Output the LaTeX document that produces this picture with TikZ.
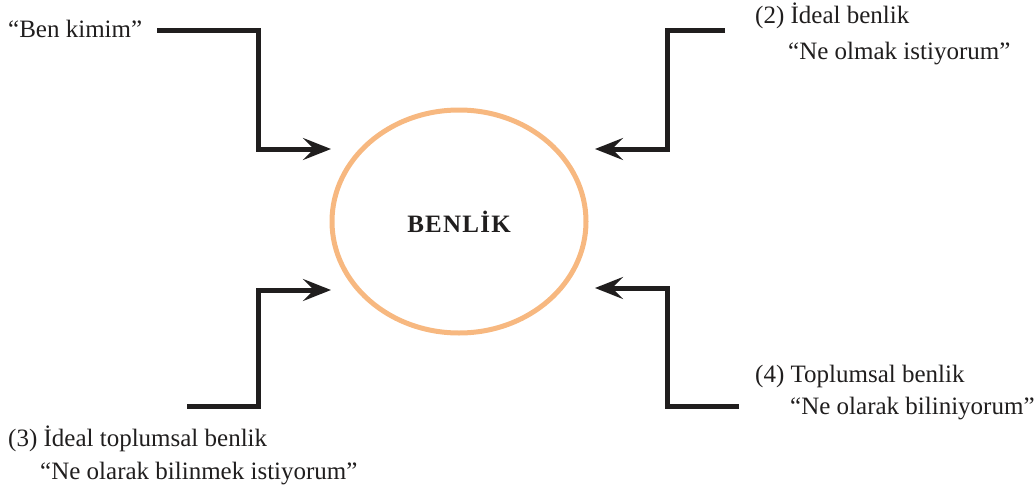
\documentclass[tikz,border=0pt]{standalone}
\usepackage{fontspec}
\setmainfont{Liberation Serif}
\usetikzlibrary{arrows.meta,shapes.geometric}
\definecolor{peach}{RGB}{247,184,128}
\definecolor{ink}{RGB}{32,30,30}
\begin{document}
\begin{tikzpicture}[x=1pt,y=-1pt,
  conn/.style={draw=ink,line width=5pt,-{Stealth[length=28pt,width=22pt,inset=11pt]}},
  lbl/.style={anchor=base west,inner sep=0pt,font=\fontsize{25}{30}\selectfont,text=ink},
  selfbox/.style={ellipse,draw=peach,line width=5pt,minimum width=254pt,minimum height=223pt,inner sep=0pt,
    font=\fontsize{25}{30}\selectfont\bfseries\addfontfeature{LetterSpace=5},text=ink}]
\useasboundingbox (0,0) rectangle (1036,490);

% central ellipse
\node[selfbox] (self) at (459,221.5) {BENLİK};

% labels
\node[lbl] (q1)  at (8,37)    {“Ben kimim”};
\node[lbl] (l2a) at (755,23)  {(2) İdeal benlik};
\node[lbl] (l2b) at (788,59)  {“Ne olmak istiyorum”};
\node[lbl] (l3a) at (8,446)   {(3) İdeal toplumsal benlik};
\node[lbl] (l3b) at (40,479)  {“Ne olarak bilinmek istiyorum”};
\node[lbl] (l4a) at (755,382) {(4) Toplumsal benlik};
\node[lbl] (l4b) at (790,414) {“Ne olarak biliniyorum”};

% free ends of the connectors
\coordinate (s1) at (157,30.5);
\coordinate (s2) at (725,30.5);
\coordinate (s3) at (187,406.5);
\coordinate (s4) at (739,406.5);
\coordinate (t1) at (331,149);
\coordinate (t2) at (595,149);
\coordinate (t3) at (331,290);
\coordinate (t4) at (595,288);

% stepped arrows pointing at the ellipse
\draw[conn] (s1) -| (258,149) -- (t1);
\draw[conn] (s2) -| (667,149) -- (t2);
\draw[conn] (s3) -| (258,290) -- (t3);
\draw[conn] (s4) -| (667,288) -- (t4);
\end{tikzpicture}
\end{document}
